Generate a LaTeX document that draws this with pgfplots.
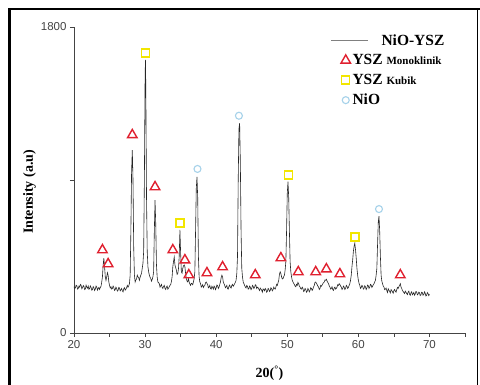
\documentclass[border=0pt]{standalone}
\usepackage{pgfplots}
\pgfplotsset{compat=1.18}
\usepackage{fontspec}
\setmainfont{Liberation Serif}
\newfontfamily\arial{Liberation Sans}
\definecolor{myred}{HTML}{E0202F}
\definecolor{myyellow}{HTML}{F2E600}
\definecolor{myblue}{HTML}{A6D2EA}
\definecolor{axgray}{HTML}{444444}
\begin{document}
\begin{tikzpicture}
\useasboundingbox (0pt,0pt) rectangle (480pt,385pt);
\fill[white] (0pt,0pt) rectangle (480pt,385pt);
\begin{axis}[
  at={(74pt,52pt)}, anchor=south west,
  scale only axis, width=391pt, height=306pt,
  xmin=20, xmax=75, ymin=0, ymax=1800,
  axis lines=left, axis line style={axgray, line width=0.8pt, -},
  xtick={20,30,...,70}, minor xtick={25,35,...,75},
  ytick={0,900,1800}, yticklabels={0,,1800},
  tick align=outside, major tick length=4pt, minor tick length=4pt,
  tick style={axgray, line width=0.8pt},
  /pgf/number format/assume math mode=true,
  tick label style={font=\arial\fontsize{11.5}{12}\selectfont, text=axgray},
  xlabel={\textbf{20(\textsuperscript{°})}}, ylabel={\textbf{Intensity (a.u)}},
  label style={font=\fontsize{14}{15}\selectfont},
  xlabel style={yshift=-10pt},
  ylabel style={yshift=-2pt, xshift=-12pt},
  clip=false,
  legend style={draw=none, fill=none, at={(0.665,0.99)}, anchor=north west,
    font=\bfseries\fontsize{15.5}{18}\selectfont, row sep=4pt},
  legend cell align=left,
]
\addplot[black!85, line width=0.6pt, legend image code/.code={\draw[overlay, gray, line width=0.6pt] (-6pt,0pt) -- (31pt,0pt);}] coordinates {
(20.0,272) (20.1,262) (20.2,265) (20.3,281) (20.4,278) (20.5,258) (20.6,262) (20.7,276) (20.8,270) (20.9,285) (21.0,281) (21.1,260) (21.2,266) (21.3,279) (21.4,274) (21.5,255) (21.6,259) (21.7,281) (21.8,270) (21.9,264) (22.0,276) (22.1,257) (22.2,262) (22.3,277) (22.4,268) (22.5,252) (22.6,255) (22.7,273) (22.8,266) (22.9,250) (23.0,258) (23.1,276) (23.2,270) (23.3,252) (23.4,262) (23.5,268) (23.6,256) (23.7,268) (23.8,275) (23.9,300)
(24.0,330) (24.1,400) (24.2,440) (24.3,390) (24.4,330) (24.5,310) (24.6,330) (24.7,355) (24.8,340) (24.9,300) (25.0,280) (25.1,265) (25.2,272) (25.3,258) (25.4,262) (25.5,276) (25.6,268) (25.7,250) (25.8,255) (25.9,270) (26.0,262) (26.1,246) (26.2,250) (26.3,268) (26.4,264) (26.5,248) (26.6,255) (26.7,262) (26.8,248) (26.9,242) (27.0,260) (27.1,266) (27.2,252) (27.3,258) (27.4,266) (27.5,280) (27.6,270) (27.7,278) (27.8,290)
(27.9,340) (28.0,600) (28.1,950) (28.2,1076) (28.3,900) (28.4,500) (28.5,340) (28.6,300) (28.7,312) (28.8,318) (28.9,340) (29.0,330) (29.1,325) (29.2,310) (29.3,328) (29.4,340) (29.5,352) (29.6,380) (29.7,410) (29.8,480) (29.9,900) (30.0,1500) (30.05,1606) (30.1,1450) (30.2,800) (30.3,480) (30.4,390) (30.5,360) (30.6,340) (30.7,328) (30.8,320) (30.9,305) (31.0,315) (31.1,330) (31.2,360) (31.3,600) (31.4,782) (31.5,640) (31.6,400) (31.7,330) (31.8,300) (31.9,296) (32.0,290) (32.1,270) (32.2,278) (32.3,286) (32.4,268) (32.5,262) (32.6,275) (32.7,280) (32.8,262) (32.9,256) (33.0,270) (33.1,276) (33.2,258) (33.3,264) (33.4,272) (33.5,280) (33.6,285) (33.7,302) (33.8,330)
(33.9,390) (34.0,420) (34.1,447) (34.2,400) (34.3,385) (34.4,370) (34.5,345) (34.6,350) (34.7,380) (34.8,450) (34.9,606) (35.0,470) (35.1,360) (35.2,352) (35.3,380) (35.4,395) (35.5,400) (35.6,390) (35.7,350) (35.8,320) (35.9,305) (36.0,300) (36.1,320) (36.2,300) (36.3,288) (36.4,280) (36.5,292) (36.6,290) (36.7,284) (36.8,300) (36.9,320) (37.0,360) (37.1,600) (37.2,850) (37.3,918) (37.4,800) (37.5,450) (37.6,330) (37.7,300) (37.8,290) (37.9,270) (38.0,275) (38.1,284) (38.2,268) (38.3,276) (38.4,280) (38.5,295) (38.6,300) (38.7,292) (38.8,285) (38.9,266) (39.0,270) (39.1,280) (39.2,262) (39.3,258) (39.4,275) (39.5,268) (39.6,258) (39.7,276) (39.8,270) (39.9,255) (40.0,265) (40.1,282) (40.2,278) (40.3,262) (40.4,270) (40.5,285) (40.6,300) (40.7,325) (40.8,340) (40.9,330) (41.0,300) (41.1,290) (41.2,280) (41.3,266) (41.4,272) (41.5,280) (41.6,260) (41.7,258) (41.8,275) (41.9,282) (42.0,268) (42.1,264) (42.2,280) (42.3,286) (42.4,275) (42.5,282) (42.6,290) (42.7,298) (42.8,310) (42.9,350)
(43.0,450) (43.1,900) (43.2,1200) (43.3,1235) (43.4,1000) (43.5,600) (43.6,380) (43.7,330) (43.8,300) (43.9,290) (44.0,280) (44.1,270) (44.2,265) (44.3,280) (44.4,275) (44.5,258) (44.6,260) (44.7,276) (44.8,270) (44.9,255) (45.0,262) (45.1,280) (45.2,275) (45.3,262) (45.4,268) (45.5,284) (45.6,280) (45.7,262) (45.8,270) (45.9,266) (46.0,258) (46.1,250) (46.2,264) (46.3,258) (46.4,252) (46.5,240) (46.6,260) (46.7,256) (46.8,248) (46.9,262) (47.0,256) (47.1,240) (47.2,245) (47.3,262) (47.4,258) (47.5,244) (47.6,250) (47.7,266) (47.8,260) (47.9,248) (48.0,255) (48.1,270) (48.2,262) (48.3,258) (48.4,270) (48.5,286) (48.6,280) (48.7,296) (48.8,310)
(48.9,345) (49.0,360) (49.1,350) (49.2,330) (49.3,318) (49.4,320) (49.5,332) (49.6,340) (49.7,370) (49.8,420) (49.9,600) (50.0,820) (50.1,890) (50.2,800) (50.3,600) (50.4,420) (50.5,360) (50.6,330) (50.7,310) (50.8,300) (50.9,292) (51.0,285) (51.1,276) (51.2,272) (51.3,286) (51.4,280) (51.5,298) (51.6,290) (51.7,276) (51.8,270) (51.9,260) (52.0,258) (52.1,270) (52.2,262) (52.3,244) (52.4,248) (52.5,262) (52.6,256) (52.7,240) (52.8,245) (52.9,262) (53.0,255) (53.1,242) (53.2,250) (53.3,266) (53.4,262) (53.5,250) (53.6,258) (53.7,272) (53.8,280) (53.9,298) (54.0,300) (54.1,292) (54.2,285) (54.3,276) (54.4,270) (54.5,256) (54.6,262) (54.7,280) (54.8,275) (54.9,282) (55.0,290) (55.1,296) (55.2,300) (55.3,312) (55.4,310) (55.5,316) (55.6,305) (55.7,298) (55.8,290) (55.9,278) (56.0,270) (56.1,258) (56.2,262) (56.3,272) (56.4,255) (56.5,250) (56.6,265) (56.7,270) (56.8,258) (56.9,262) (57.0,270) (57.1,284) (57.2,280) (57.3,290) (57.4,285) (57.5,276) (57.6,270) (57.7,256) (57.8,262) (57.9,276) (58.0,270) (58.1,256) (58.2,262) (58.3,280) (58.4,275) (58.5,262) (58.6,268) (58.7,280) (58.8,290) (58.9,310)
(59.0,340) (59.1,390) (59.2,430) (59.3,480) (59.4,510) (59.5,528) (59.6,490) (59.7,440) (59.8,380) (59.9,340) (60.0,310) (60.1,292) (60.2,280) (60.3,262) (60.4,268) (60.5,280) (60.6,275) (60.7,258) (60.8,262) (60.9,278) (61.0,272) (61.1,256) (61.2,265) (61.3,282) (61.4,278) (61.5,262) (61.6,270) (61.7,286) (61.8,282) (61.9,268) (62.0,275) (62.1,284) (62.2,290) (62.3,300) (62.4,310) (62.5,340) (62.6,380) (62.7,520) (62.8,650) (62.9,688) (63.0,600) (63.1,450) (63.2,340) (63.3,305) (63.4,290) (63.5,276) (63.6,270) (63.7,255) (63.8,258) (63.9,264) (64.0,250) (64.1,238) (64.2,260) (64.3,252) (64.4,245) (64.5,236) (64.6,255) (64.7,250) (64.8,242) (64.9,234) (65.0,250) (65.1,256) (65.2,246) (65.3,240) (65.4,255) (65.5,268) (65.6,262) (65.7,272) (65.8,280) (65.9,290) (66.0,270) (66.1,262) (66.2,250) (66.3,244) (66.4,238) (66.5,232) (66.6,246) (66.7,240) (66.8,232) (66.9,226) (67.0,240) (67.1,246) (67.2,228) (67.3,222) (67.4,236) (67.5,242) (67.6,225) (67.7,230) (67.8,238) (67.9,222) (68.0,230) (68.1,244) (68.2,242) (68.3,224) (68.4,228) (68.5,240) (68.6,236) (68.7,220) (68.8,224) (68.9,240) (69.0,238) (69.1,222) (69.2,226) (69.3,242) (69.4,234) (69.5,218) (69.6,222) (69.7,238) (69.8,232) (69.9,220) (70.0,228)
};
\addlegendentry{\hspace{29pt}NiO-YSZ}
\addplot[only marks, mark=triangle, mark size=5.5pt, draw=myred, line width=1.4pt] coordinates {
(24.0,488) (24.8,406) (28.2,1165) (31.4,859) (33.9,488) (35.6,429) (36.15,341) (38.7,353) (40.9,388) (45.5,341) (49.1,441) (51.55,359) (54.0,359) (55.5,376) (57.4,347) (65.9,341)
};
\addlegendentry{YSZ {\fontsize{11}{12}\selectfont Monoklinik}}
\addplot[only marks, mark=square, mark size=4pt, draw=myyellow, line width=1.4pt] coordinates {
(30.07,1647) (34.9,647) (50.15,929) (59.5,565)
};
\addlegendentry{YSZ {\fontsize{11}{12}\selectfont Kubik}}
\addplot[only marks, mark=o, mark size=3.5pt, draw=myblue, line width=1.1pt] coordinates {
(37.37,965) (43.2,1278) (62.9,729)
};
\addlegendentry{NiO}
\end{axis}
\draw[black, line width=3pt] (9.5pt,-5pt) -- (9.5pt,376pt);
\draw[black, line width=2pt] (8pt,376pt) -- (480pt,376pt);
\draw[black, line width=1pt] (477pt,376pt) -- (477pt,-5pt);
\end{tikzpicture}
\end{document}
